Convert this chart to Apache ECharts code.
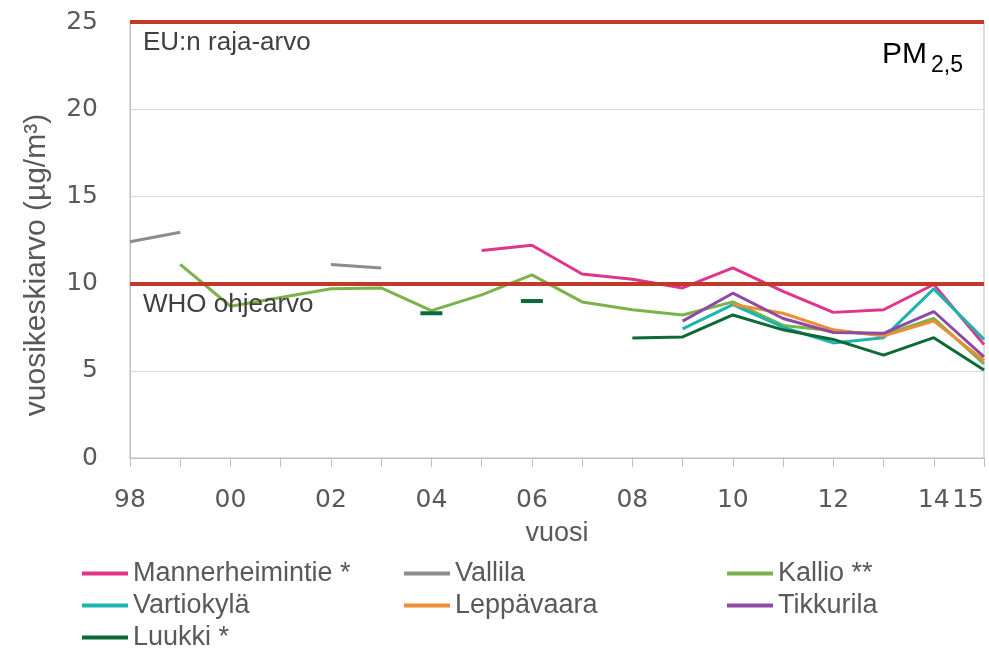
<!DOCTYPE html>
<html>
<head>
<meta charset="utf-8">
<script src="https://cdn.jsdelivr.net/npm/echarts@6/dist/echarts.min.js"></script>
<style>
  html, body { margin: 0; padding: 0; background: #fff; }
  #chart { width: 989px; height: 648px; }
</style>
</head>
<body>
<div id="chart"></div>
<script>
// vuodet 1998-2015
const years = ['98', '99', '00', '01', '02', '03', '04', '05', '06', '07', '08', '09', '10', '11', '12', '13', '14', '15'];

const mannerheimintie = [null, null, null, null, null, null, null, 11.9, 12.2, 10.55, 10.25, 9.75, 10.9, 9.55, 8.35, 8.5, 9.95, 6.5];
const vallila = [12.4, 12.95, null, null, 11.1, 10.9, null, null, null, null, null, null, null, null, null, null, null, null];
const kallio = [null, 11.1, 8.7, 9.2, 9.7, 9.75, 8.45, 9.35, 10.5, 8.95, 8.5, 8.2, 8.95, 7.6, 7.3, 7.05, 8.0, 5.4];
const vartiokyla = [null, null, null, null, null, null, null, null, null, null, null, 7.4, 8.8, 7.5, 6.6, 6.9, 9.7, 6.8];
const leppavaara = [null, null, null, null, null, null, null, null, null, null, null, null, 8.8, 8.3, 7.35, 7.0, 7.85, 5.6];
const tikkurila = [null, null, null, null, null, null, null, null, null, null, null, 7.85, 9.45, 8.0, 7.2, 7.15, 8.4, 5.8];
const luukki = [null, null, null, null, null, null, 8.3, null, 9.0, null, 6.88, 6.94, 8.2, 7.35, 6.8, 5.9, 6.9, 5.05];

const euLimit = 25;
const whoGuide = 10;

const font = "'Liberation Sans', Arial, sans-serif";
const numFont = "'DejaVu Sans', 'Liberation Sans', sans-serif";

// yksittäiset pisteet piirretään lyhyenä viivana
const toItems = (arr, color) => arr.map((v, i) => {
  const lone = v != null && arr[i - 1] == null && arr[i + 1] == null;
  return lone
    ? { value: v, symbol: 'rect', symbolSize: [22, 4], itemStyle: { color: color } }
    : { value: v, symbol: 'none' };
});

const stations = [
  { name: 'Mannerheimintie *', data: mannerheimintie, color: '#E0358A' },
  { name: 'Vallila', data: vallila, color: '#8C8C8C' },
  { name: 'Kallio **', data: kallio, color: '#7CB24A' },
  { name: 'Vartiokylä', data: vartiokyla, color: '#1DB3AE' },
  { name: 'Leppävaara', data: leppavaara, color: '#EF8D35' },
  { name: 'Tikkurila', data: tikkurila, color: '#8B4BA5' },
  { name: 'Luukki *', data: luukki, color: '#0B6A35' }
];

const seriesArr = stations.map(s => ({
  name: s.name,
  type: 'line',
  data: toItems(s.data, s.color),
  color: s.color,
  showSymbol: true,
  showAllSymbol: true,
  connectNulls: false,
  lineStyle: { width: 3, color: s.color },
  emphasis: { disabled: true }
}));

seriesArr.push({
  name: 'rajat',
  type: 'line',
  data: years.map(() => null),
  silent: true,
  markLine: {
    silent: true,
    symbol: 'none',
    animation: false,
    lineStyle: { color: '#C0392B', width: 4, type: 'solid' },
    label: {
      position: 'insideStartBottom',
      distance: [13, 8],
      fontSize: 26,
      color: '#404040',
      fontFamily: font
    },
    data: [
      { yAxis: euLimit, label: { formatter: 'EU:n raja-arvo' } },
      { yAxis: whoGuide, label: { formatter: 'WHO ohjearvo' } }
    ]
  }
});

const legendBase = {
  orient: 'vertical',
  icon: 'rect',
  itemWidth: 46,
  itemHeight: 4,
  itemGap: 5,
  padding: 0,
  height: 140,
  selectedMode: false,
  textStyle: { fontSize: 27, color: '#595959', fontFamily: font, lineHeight: 26 }
};

const chart = echarts.init(document.getElementById('chart'));
const option = {
  animation: false,
  backgroundColor: '#fff',
  textStyle: { fontFamily: font },
  grid: {
    left: 130, right: 5, top: 22, bottom: 190,
    outerBoundsMode: 'none',
    containLabel: false,
    show: true, borderColor: '#bfbfbf', borderWidth: 1
  },
  legend: [
    Object.assign({}, legendBase, { left: 82, top: 560, data: ['Mannerheimintie *', 'Vartiokylä', 'Luukki *'] }),
    Object.assign({}, legendBase, { left: 404, top: 560, data: ['Vallila', 'Leppävaara'] }),
    Object.assign({}, legendBase, { left: 727, top: 560, data: ['Kallio **', 'Tikkurila'] })
  ],
  xAxis: {
    type: 'category',
    data: years,
    boundaryGap: false,
    axisLine: { lineStyle: { color: '#bfbfbf' } },
    axisTick: { show: true, interval: 0, length: 9, lineStyle: { color: '#bfbfbf' } },
    axisLabel: {
      interval: (i) => i % 2 === 0 || i === years.length - 1,
      alignMaxLabel: 'right',
      fontSize: 25,
      fontFamily: numFont,
      color: '#595959',
      margin: 30
    },
    splitLine: { show: false },
    name: 'vuosi',
    nameLocation: 'middle',
    nameGap: 62,
    nameTextStyle: { fontSize: 27, color: '#595959' }
  },
  yAxis: {
    type: 'value',
    min: 0,
    max: 25,
    interval: 5,
    axisLine: { show: true, lineStyle: { color: '#bfbfbf' } },
    axisTick: { show: false },
    axisLabel: { fontSize: 25, fontFamily: numFont, color: '#595959', margin: 32 },
    splitLine: { lineStyle: { color: '#d9d9d9' } },
    name: 'vuosikeskiarvo (µg/m³)',
    nameLocation: 'middle',
    nameGap: 78,
    nameTextStyle: { fontSize: 30, color: '#595959', padding: [0, 50, 0, 0] }
  },
  graphic: [
    { type: 'text', left: 882, top: 40, style: { text: 'PM', fill: '#000', font: '30px ' + font } },
    { type: 'text', left: 931, top: 54, style: { text: '2,5', fill: '#000', font: '23px ' + font } }
  ],
  series: seriesArr
};
chart.setOption(option);
</script>
</body>
</html>
